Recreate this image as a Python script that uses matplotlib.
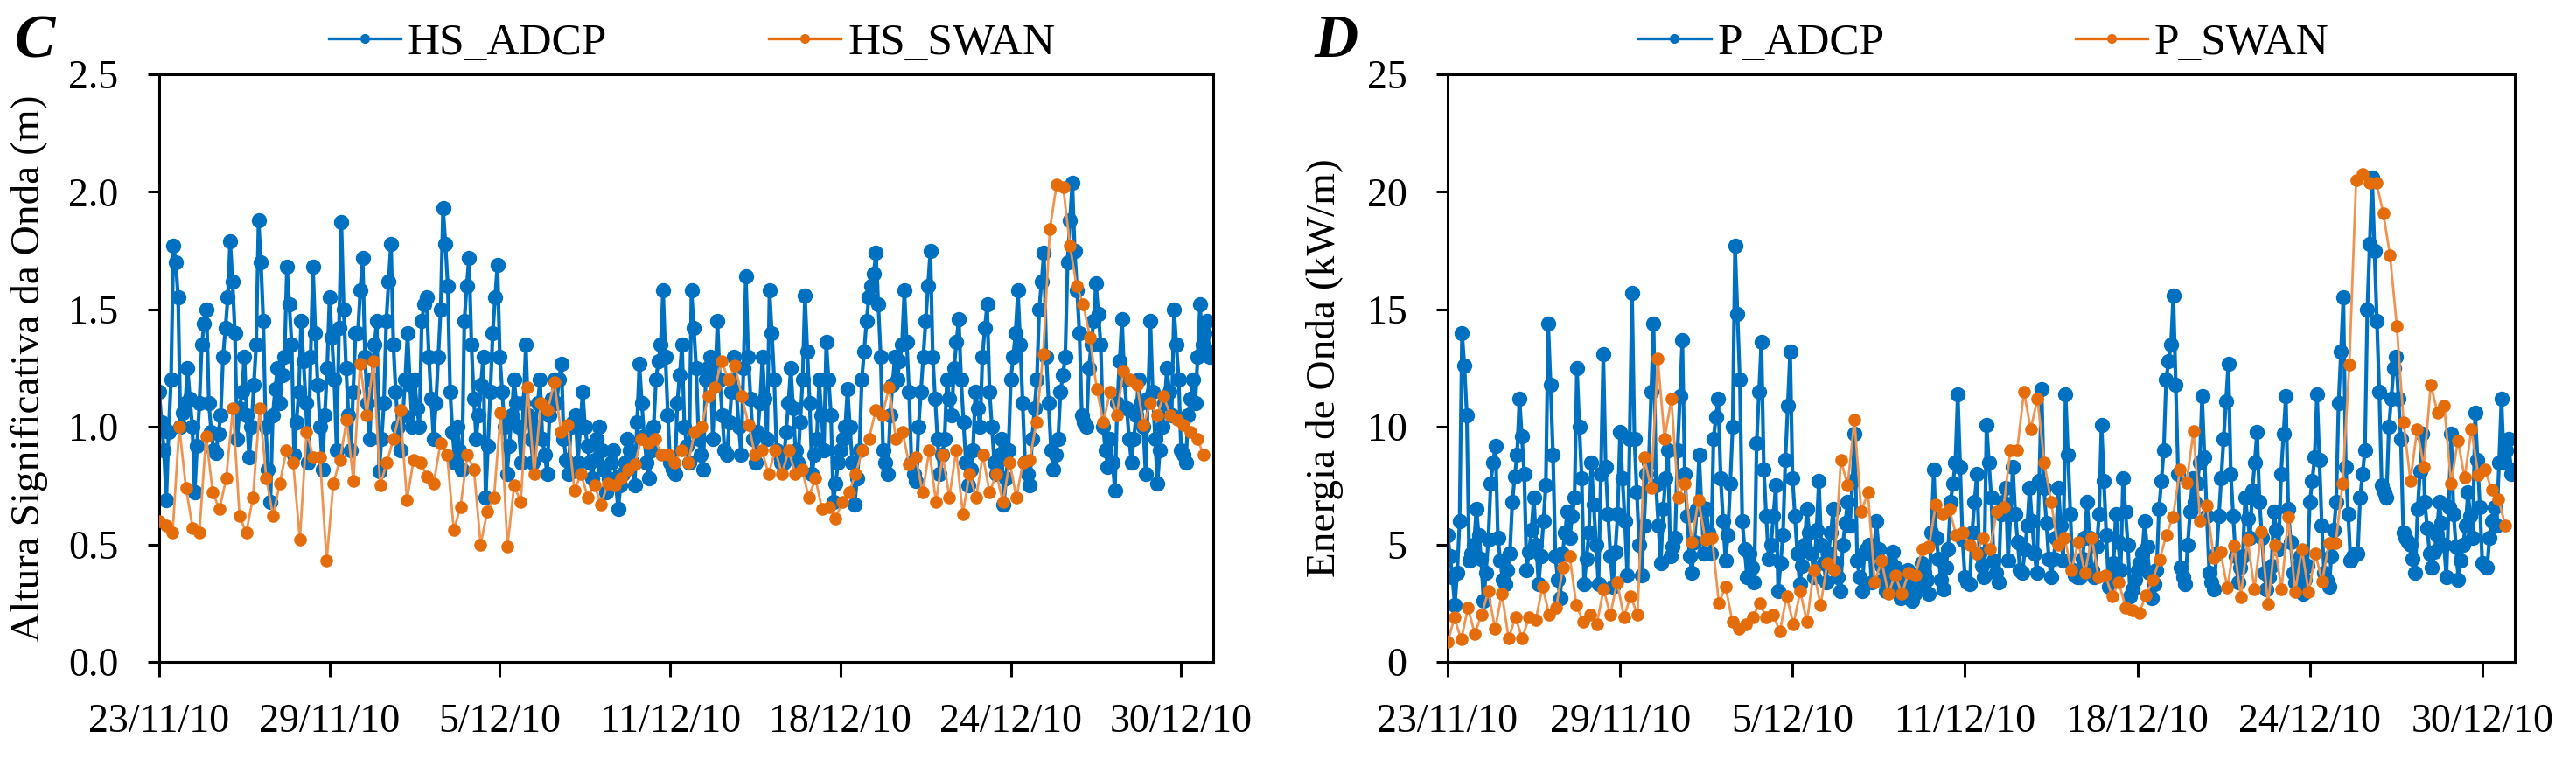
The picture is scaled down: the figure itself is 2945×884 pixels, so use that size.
import numpy as np
import matplotlib
matplotlib.use("Agg")
import matplotlib.pyplot as plt
from matplotlib.lines import Line2D

plt.rcParams['font.family'] = ['Liberation Serif', 'DejaVu Serif']

# ---------------- data ----------------
tick_labels = ["23/11/10", "29/11/10", "5/12/10", "11/12/10", "18/12/10", "24/12/10", "30/12/10"]
tick_days = [0, 6, 12, 18, 24, 30, 36]

ADCP_STEP_DAYS = 1 / 12  # 2-hourly samples (one row = one day)

HS_ADCP = [
    1.15, 1.02, 0.90, 0.69, 0.98, 1.20, 1.77, 1.70, 1.55, 1.00, 1.06, 1.10,
    1.25, 1.12, 1.00, 0.72, 0.92, 1.10, 1.35, 1.44, 1.50, 1.10, 0.98, 0.90,
    0.89, 0.97, 1.05, 1.30, 1.42, 1.55, 1.79, 1.62, 1.40, 0.95, 1.08, 1.15,
    1.30, 1.05, 0.87, 1.00, 1.18, 1.35, 1.88, 1.70, 1.45, 1.00, 0.82, 0.68,
    1.05, 1.16, 1.25, 1.10, 1.22, 1.30, 1.68, 1.52, 1.35, 0.88, 1.02, 1.15,
    1.45, 1.28, 1.10, 0.85, 1.30, 1.68, 1.40, 1.18, 1.00, 0.82, 1.05, 1.25,
    1.55, 1.38, 1.20, 0.90, 1.42, 1.87, 1.50, 1.25, 1.05, 0.90, 1.15, 1.40,
    1.40, 1.58, 1.72, 1.30, 1.10, 0.95, 1.20, 1.35, 1.45, 0.81, 0.95, 1.10,
    1.45, 1.62, 1.78, 1.35, 1.15, 1.00, 0.90, 1.05, 1.20, 1.40, 1.18, 1.00,
    1.20, 1.08, 1.00, 1.45, 1.52, 1.55, 1.30, 1.12, 0.95, 1.10, 1.30, 1.50,
    1.93, 1.78, 1.60, 1.15, 0.98, 0.85, 1.00, 0.90, 0.82, 1.45, 1.60, 1.72,
    1.35, 1.12, 0.95, 1.05, 1.18, 1.30, 0.70, 0.92, 1.15, 1.40, 1.55, 1.69,
    1.30, 1.15, 1.00, 0.80, 0.92, 1.05, 1.20, 1.10, 1.00, 0.85, 1.10, 1.35,
    1.05, 0.95, 0.85, 1.00, 1.10, 1.20, 0.95, 0.88, 0.80, 1.05, 1.12, 1.20,
    1.10, 1.20, 1.27, 0.95, 0.86, 0.80, 1.00, 1.02, 1.05, 0.85, 1.00, 1.15,
    1.00, 0.92, 0.85, 0.78, 0.86, 0.95, 1.00, 0.90, 0.82, 0.72, 0.78, 0.85,
    0.90, 0.76, 0.65, 0.75, 0.80, 0.85, 0.95, 0.90, 0.85, 0.75, 1.02, 1.27,
    1.10, 0.96, 0.85, 0.78, 0.90, 1.00, 1.20, 1.28, 1.35, 1.58, 1.30, 1.05,
    0.85, 0.82, 0.80, 1.10, 1.22, 1.35, 1.00, 0.92, 0.85, 1.58, 1.42, 1.25,
    0.95, 0.88, 0.82, 1.20, 1.25, 1.30, 0.95, 1.20, 1.45, 1.20, 1.05, 0.90,
    0.88, 1.02, 1.15, 1.30, 1.15, 1.00, 0.88, 1.25, 1.64, 1.30, 1.12, 0.95,
    0.85, 0.98, 1.10, 1.30, 1.12, 0.95, 1.58, 1.40, 1.20, 0.90, 0.88, 0.85,
    0.85, 0.98, 1.10, 1.25, 1.08, 0.90, 0.85, 1.02, 1.20, 1.56, 1.32, 1.10,
    0.80, 0.88, 0.95, 1.20, 1.05, 0.90, 1.36, 1.20, 1.05, 0.68, 0.76, 0.85,
    0.90, 0.95, 1.00, 1.16, 1.00, 0.85, 0.67, 0.78, 0.90, 1.20, 1.32, 1.45,
    1.55, 1.60, 1.65, 1.74, 1.52, 1.30, 0.90, 0.85, 0.80, 1.05, 1.18, 1.30,
    1.20, 1.28, 1.35, 1.58, 1.36, 1.15, 0.85, 0.80, 0.77, 1.00, 1.15, 1.30,
    1.45, 1.60, 1.75, 1.30, 1.12, 0.95, 0.80, 0.88, 0.95, 1.20, 1.12, 1.05,
    1.25, 1.36, 1.46, 1.20, 1.02, 0.85, 0.75, 0.82, 0.90, 1.15, 1.08, 1.00,
    1.30, 1.42, 1.52, 1.15, 1.00, 0.85, 0.80, 0.88, 0.95, 0.67, 0.78, 0.90,
    1.20, 1.30, 1.40, 1.58, 1.35, 1.10, 0.85, 0.80, 0.75, 0.95, 1.08, 1.20,
    1.50, 1.62, 1.74, 1.30, 1.10, 0.90, 0.82, 0.88, 0.95, 1.15, 1.22, 1.30,
    1.70, 1.88, 2.04, 1.75, 1.58, 1.40, 1.05, 1.02, 1.00, 1.25, 1.35, 1.45,
    1.61, 1.48, 1.35, 1.00, 0.90, 0.83, 0.95, 0.85, 0.73, 1.10, 1.28, 1.46,
    1.20, 1.08, 0.95, 0.85, 0.95, 1.05, 1.20, 1.10, 1.00, 0.80, 1.12, 1.45,
    1.15, 0.95, 0.76, 0.90, 1.00, 1.10, 1.25, 1.15, 1.05, 1.50, 1.35, 1.20,
    0.90, 0.88, 0.85, 1.05, 1.12, 1.20, 1.10, 1.30, 1.52, 1.35, 1.40, 1.45,
    1.30, 1.32,
]

P_ADCP = [
    5.4, 4.5, 3.6, 2.4, 3.8, 6.0, 14.0, 12.6, 10.5, 4.3, 4.6, 5.0,
    6.5, 5.4, 4.4, 2.6, 3.8, 5.2, 7.6, 8.5, 9.2, 5.3, 4.3, 3.5,
    3.3, 3.9, 4.6, 6.8, 7.9, 8.8, 11.2, 9.6, 8.0, 3.9, 4.7, 5.6,
    7.0, 5.0, 3.3, 4.5, 6.0, 7.5, 14.4, 11.8, 8.8, 4.5, 3.5, 2.7,
    4.6, 5.5, 6.4, 5.3, 6.2, 7.0, 12.5, 10.0, 7.8, 3.3, 4.4, 5.5,
    8.5, 6.7, 5.0, 3.3, 8.0, 13.1, 8.3, 6.3, 4.5, 3.2, 4.7, 6.3,
    9.8, 7.8, 6.0, 3.7, 9.5, 15.7, 9.5, 7.2, 5.0, 3.7, 5.8, 8.0,
    8.5, 11.5, 14.4, 7.5, 5.8, 4.2, 6.5, 7.8, 9.0, 4.5, 4.9, 5.3,
    9.0, 11.3, 13.7, 8.0, 6.2, 4.5, 3.8, 5.1, 6.5, 8.8, 6.6, 4.6,
    6.5, 5.5, 4.6, 9.5, 10.4, 11.2, 7.8, 6.0, 4.3, 5.4, 7.6, 10.0,
    17.7, 14.8, 12.0, 6.0, 4.8, 3.6, 4.6, 4.0, 3.4, 9.3, 11.5, 13.6,
    8.2, 6.2, 4.4, 5.0, 6.2, 7.5, 3.0, 4.2, 5.4, 8.6, 10.9, 13.2,
    7.8, 6.2, 4.6, 3.3, 4.1, 5.0, 6.5, 5.5, 4.6, 3.6, 5.6, 7.7,
    5.0, 4.2, 3.4, 4.6, 5.5, 6.5, 4.2, 3.6, 3.0, 5.0, 5.9, 6.8,
    5.8, 7.7, 9.7, 4.3, 3.6, 3.0, 4.6, 4.8, 5.0, 3.4, 4.7, 6.0,
    4.8, 4.1, 3.5, 3.0, 3.6, 4.2, 4.7, 4.0, 3.3, 2.7, 3.0, 3.4,
    3.9, 3.2, 2.6, 2.9, 3.1, 3.4, 4.2, 3.8, 3.5, 2.9, 5.5, 8.2,
    5.3, 4.4, 3.5, 3.1, 4.0, 4.8, 6.8, 7.6, 8.5, 11.4, 8.3, 5.2,
    3.6, 3.4, 3.3, 5.5, 6.8, 8.0, 4.6, 4.1, 3.6, 10.1, 8.5, 7.0,
    4.3, 3.8, 3.4, 6.3, 6.8, 7.4, 4.3, 6.3, 8.3, 6.3, 5.1, 3.9,
    3.8, 4.8, 5.8, 7.4, 6.0, 4.6, 3.8, 7.7, 11.6, 7.4, 5.9, 4.4,
    3.6, 4.4, 5.3, 7.4, 5.8, 4.3, 11.4, 8.8, 6.3, 3.9, 3.7, 3.6,
    3.6, 4.4, 5.3, 6.8, 5.3, 3.9, 3.6, 4.9, 6.3, 10.1, 7.7, 5.4,
    3.2, 3.7, 4.2, 6.3, 5.1, 3.9, 7.8, 6.4, 5.0, 2.8, 3.1, 3.5,
    3.9, 4.2, 4.6, 6.0, 4.9, 3.8, 2.7, 3.3, 3.9, 6.5, 7.7, 9.0,
    12.0, 12.8, 13.5, 15.6, 11.8, 8.0, 4.0, 3.6, 3.3, 5.0, 6.4, 7.8,
    6.8, 7.6, 8.5, 11.3, 8.7, 6.2, 3.8, 3.4, 3.1, 4.6, 6.2, 7.8,
    9.5, 11.1, 12.7, 8.0, 6.2, 4.5, 3.4, 4.0, 4.5, 7.0, 6.1, 5.3,
    7.3, 8.5, 9.8, 6.8, 5.3, 3.8, 3.1, 3.6, 4.1, 6.4, 5.6, 4.8,
    8.0, 9.7, 11.3, 6.5, 5.1, 3.8, 3.4, 4.0, 4.5, 2.9, 3.5, 4.1,
    6.8, 7.7, 8.7, 11.4, 8.6, 5.8, 3.8, 3.5, 3.2, 4.5, 5.6, 6.8,
    11.0, 13.2, 15.5, 8.3, 6.3, 4.3, 4.5, 4.6, 4.6, 7.0, 8.0, 9.0,
    15.0, 17.8, 20.6, 17.5, 14.5, 11.5, 7.5, 7.2, 7.0, 10.0, 11.2, 12.5,
    13.0, 11.2, 9.5, 5.5, 5.3, 5.1, 5.0, 4.4, 3.8, 6.5, 8.1, 9.7,
    6.8, 5.7, 4.6, 4.0, 4.7, 5.4, 6.8, 5.9, 5.0, 3.6, 6.6, 9.7,
    6.3, 4.9, 3.5, 4.3, 5.0, 5.8, 7.2, 6.2, 5.3, 10.6, 8.6, 6.6,
    4.2, 4.1, 4.0, 5.3, 6.0, 6.6, 5.8, 8.5, 11.2, 8.5, 9.0, 9.5,
    8.0, 8.2,
]

SWAN_LAST_DAY = 36.8

HS_SWAN = [
    0.60, 0.58, 0.55, 1.00, 0.74, 0.57, 0.55, 0.96, 0.72, 0.65,
    0.78, 1.08, 0.62, 0.55, 0.70, 1.08, 0.78, 0.62, 0.76, 0.90,
    0.85, 0.52, 0.98, 0.87, 0.87, 0.43, 0.76, 0.86, 1.03, 0.77,
    1.27, 1.05, 1.28, 0.75, 0.85, 0.95, 1.07, 0.69, 0.86, 0.85,
    0.79, 0.76, 0.93, 0.88, 0.56, 0.66, 0.88, 0.82, 0.50, 0.64,
    0.70, 1.06, 0.49, 0.75, 0.68, 1.17, 0.80, 1.10, 1.07, 1.19,
    0.98, 1.01, 0.73, 0.80, 0.70, 0.75, 0.67, 0.76, 0.75, 0.78,
    0.82, 0.84, 0.95, 0.93, 0.95, 0.88, 0.88, 0.85, 0.90, 0.85,
    0.98, 1.00, 1.13, 1.17, 1.28, 1.20, 1.26, 1.13, 1.01, 0.88,
    0.90, 0.80, 0.90, 0.80, 0.90, 0.80, 0.82, 0.70, 0.78, 0.65,
    0.66, 0.61, 0.68, 0.72, 0.80, 0.90, 0.95, 1.07, 1.05, 1.17,
    0.95, 0.98, 0.84, 0.87, 0.72, 0.90, 0.68, 0.88, 0.70, 0.90,
    0.63, 0.80, 0.70, 0.88, 0.72, 0.80, 0.68, 0.85, 0.70, 0.85,
    0.86, 1.02, 1.31, 1.84, 2.03, 2.02, 1.77, 1.60, 1.52, 1.38,
    1.16, 1.02, 1.15, 1.05, 1.24, 1.20, 1.18, 1.01, 1.10, 1.05,
    1.13, 1.05, 1.03, 1.01, 0.98, 0.95, 0.88,
]

P_SWAN = [
    0.84, 1.88, 0.95, 2.3, 1.2, 2.0, 3.0, 1.4, 2.9, 1.0,
    1.9, 1.0, 1.9, 1.8, 3.2, 2.0, 2.3, 4.0, 4.5, 2.4,
    1.7, 2.0, 1.6, 3.1, 2.0, 3.4, 1.9, 2.8, 2.0, 8.7,
    7.4, 12.9, 9.5, 11.2, 7.0, 7.6, 5.1, 6.9, 5.2, 5.3,
    2.5, 3.2, 1.7, 1.4, 1.6, 1.9, 2.5, 1.9, 2.0, 1.3,
    2.8, 1.6, 3.0, 1.7, 3.9, 2.4, 4.2, 3.9, 8.6, 7.5,
    10.3, 6.4, 7.2, 3.4, 4.3, 2.9, 3.7, 2.9, 3.8, 3.7,
    4.8, 4.9, 6.7, 6.3, 6.5, 5.4, 5.5, 5.0, 4.6, 5.3,
    4.8, 6.4, 6.6, 9.0, 9.0, 11.5, 9.9, 11.2, 8.5, 6.8,
    5.0, 5.3, 3.9, 5.1, 3.8, 5.3, 3.6, 3.7, 2.8, 3.4,
    2.3, 2.2, 2.10, 2.83, 3.49, 4.35, 5.40, 6.19, 8.17, 7.64,
    9.82, 6.00, 6.65, 4.41, 4.68, 3.16, 4.94, 2.77, 5.20, 3.09,
    5.53, 2.44, 5.00, 3.09, 6.19, 2.96, 4.81, 2.96, 4.60, 3.42,
    5.07, 5.07, 7.58, 12.66, 20.50, 20.77, 20.40, 20.37, 19.10, 17.30,
    14.30, 10.20, 7.71, 9.89, 8.30, 11.80, 10.60, 10.90, 7.58, 9.42,
    7.84, 9.89, 7.97, 8.17, 7.32, 6.92, 5.80,
]

# ---------------- style ----------------
BLUE = '#0070C0'
ORANGE = '#E46C0A'
ORANGE_LINE = '#EE9350'
W, H = 2945, 884

fig = plt.figure(figsize=(W / 100, H / 100), dpi=100)
ax_bottom = 1 - 757 / H
ax_height = (757 - 85) / H
axL = fig.add_axes([182 / W, ax_bottom, (1387 - 182) / W, ax_height])
axR = fig.add_axes([1655 / W, ax_bottom, (2875 - 1655) / W, ax_height])

t_adcp = np.arange(len(HS_ADCP)) * ADCP_STEP_DAYS


def draw(ax, adcp, swan, ylim, yticks, yfmt, ylabel, names, letter, letter_x, leg_cx, colsp, ylab_x):
    ax.plot(t_adcp, adcp, color=BLUE, lw=3.0, marker='o', ms=11.5,
            mfc=BLUE, mec=BLUE, zorder=2)
    ax.plot(np.linspace(0, SWAN_LAST_DAY, len(swan)), swan, color=ORANGE_LINE, lw=2.0,
            marker='o', ms=9.5, mfc=ORANGE, mec=ORANGE, zorder=3)
    ax.set_xlim(0, 37.13)
    ax.set_ylim(*ylim)
    ax.set_xticks(tick_days)
    ax.set_xticklabels(tick_labels)
    ax.set_yticks(yticks)
    ax.set_yticklabels([yfmt.format(v) for v in yticks])
    for s in ax.spines.values():
        s.set_linewidth(2.2)
        s.set_color('black')
    ax.tick_params(axis='x', direction='out', length=12, width=2.2, pad=22,
                   labelsize=33)
    ax.tick_params(axis='y', direction='out', length=9.5, width=2.2, pad=24,
                   labelsize=33)
    ax.set_ylabel(ylabel, fontsize=34)
    ax.yaxis.set_label_coords(ylab_x, 0.5)
    handles = [
        Line2D([0], [0], color=BLUE, lw=2.4, marker='o', ms=7, mfc=BLUE, mec=BLUE),
        Line2D([0], [0], color=ORANGE, lw=2.4, marker='o', ms=7, mfc=ORANGE, mec=ORANGE),
    ]
    fig.legend(handles, names, ncol=2, loc='center',
               bbox_to_anchor=(leg_cx / W, 1 - 50 / H), bbox_transform=fig.transFigure,
               frameon=False, fontsize=37, handlelength=1.6, handletextpad=0.15,
               columnspacing=colsp, numpoints=1, borderaxespad=0, borderpad=0)
    fig.text(letter_x / W, 1 - 65 / H, letter, fontsize=50, fontweight='bold',
             fontstyle='italic', ha='left', va='baseline')


draw(axL, HS_ADCP, HS_SWAN, (0, 2.5), [0.0, 0.5, 1.0, 1.5, 2.0, 2.5], '{:.1f}',
     'Altura Significativa da Onda (m)', ['HS_ADCP', 'HS_SWAN'], 'C', 17, 791, 3.6, -0.105)
draw(axR, P_ADCP, P_SWAN, (0, 25), [0, 5, 10, 15, 20, 25], '{:.0f}',
     'Energia de Onda (kW/m)', ['P_ADCP', 'P_SWAN'], 'D', 1503, 2268, 4.25, -0.0975)

fig.savefig('out.png', dpi=100)
